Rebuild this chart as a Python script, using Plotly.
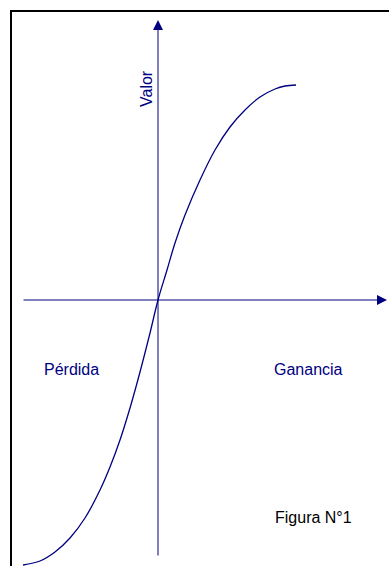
import plotly.graph_objects as go

# curva de valor (origen en el cruce de los ejes)
ganancia = [-135, -118, -103, -88, -73, -58, -48, -38, -28, -18, -8, 0,
            9, 17, 27, 42, 57, 72, 87, 102, 117, 127, 138]
valor = [-265, -261, -252, -238, -218, -190, -167, -140, -108, -72, -33, 0,
         30, 57, 85, 120, 150, 173, 190, 203, 211, 214, 215]

navy = "#000080"

fig = go.Figure()

fig.add_trace(go.Scatter(x=ganancia, y=valor, mode="lines",
                         line=dict(color=navy, width=1.3, shape="spline"),
                         hoverinfo="skip", showlegend=False))

# marco
fig.add_shape(type="rect", x0=-147, y0=289, x1=236, y1=-290,
              line=dict(color="black", width=2))

# ejes con flecha
fig.add_annotation(x=229, y=0, ax=-136, ay=0, xref="x", yref="y", axref="x", ayref="y",
                   showarrow=True, arrowhead=2, arrowsize=2, arrowwidth=1, arrowcolor=navy, text="")
fig.add_annotation(x=0, y=280, ax=0, ay=-257, xref="x", yref="y", axref="x", ayref="y",
                   showarrow=True, arrowhead=2, arrowsize=2, arrowwidth=1, arrowcolor=navy, text="")

font = dict(family="Liberation Sans, Arial", size=16, color=navy)
fig.add_annotation(x=-12, y=211, text="Valor", textangle=-90, showarrow=False, font=font)
fig.add_annotation(x=-87, y=-69, text="Pérdida", showarrow=False, font=font)
fig.add_annotation(x=150, y=-69, text="Ganancia", showarrow=False, font=font)
fig.add_annotation(x=155, y=-217, text="Figura N°1", showarrow=False,
                   font=dict(family="Liberation Sans, Arial", size=16, color="black"))

fig.update_xaxes(range=[-158, 231], visible=False)
fig.update_yaxes(range=[-266, 300], visible=False)
fig.update_layout(width=389, height=566, margin=dict(l=0, r=0, t=0, b=0),
                  plot_bgcolor="white", paper_bgcolor="white")

fig.write_html("out.html", config={"displayModeBar": False},
               post_script="document.body.style.margin='0';")
